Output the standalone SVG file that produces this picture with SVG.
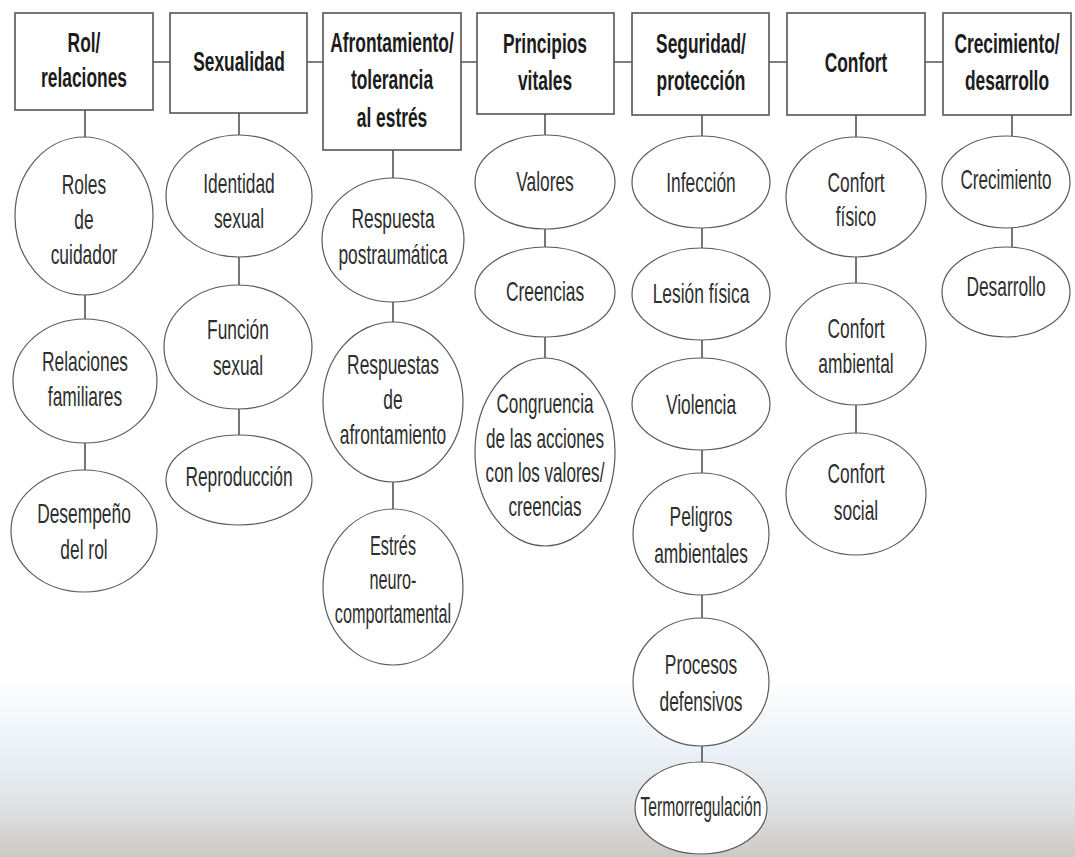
<svg xmlns="http://www.w3.org/2000/svg" width="1075" height="857" viewBox="0 0 1075 857">
<defs>
<linearGradient id="bg" x1="0" y1="0" x2="0" y2="857" gradientUnits="userSpaceOnUse">
<stop offset="0" stop-color="#ffffff"/>
<stop offset="0.79" stop-color="#ffffff"/>
<stop offset="0.87" stop-color="#ecf3f8"/>
<stop offset="0.94" stop-color="#e0e2e4"/>
<stop offset="1" stop-color="#cdc8c4"/>
</linearGradient>
<style>
.box{fill:#ffffff;stroke:#555;stroke-width:1.6}
.ell{fill:#ffffff;stroke:#5a5a5a;stroke-width:1.2}
.ln{stroke:#555;stroke-width:1.6;fill:none}
.t{font-family:"Liberation Sans",Arial,sans-serif;font-size:28.5px;fill:#2e2e2e;text-anchor:middle}
.b{font-family:"Liberation Sans",Arial,sans-serif;font-size:28.5px;font-weight:bold;fill:#1c1c1c;text-anchor:middle}
</style>
</defs>
<rect x="0" y="0" width="1075" height="857" fill="url(#bg)"/>

<g id="connectors">
<path class="ln" d="M153 62H170M307 62H323M461 62H477M614 62H632M769 62H787M925 62H943"/>
<path class="ln" d="M85 110V137M85 295V319M85 443V470"/>
<path class="ln" d="M239 113V135M239 257V285M239 409V435"/>
<path class="ln" d="M393 150V178M393 302V323M393 482V509"/>
<path class="ln" d="M545 114V135M545 229V247M545 337V358"/>
<path class="ln" d="M702 115V136M702 228V248M702 340V358M702 450V473M702 595V618M702 746V762"/>
<path class="ln" d="M856 115V137M856 257V283M856 405V433"/>
<path class="ln" d="M1012 115V136M1012 228V247"/>
</g>

<g id="rol-relaciones"><rect class="box" x="15" y="13" width="138" height="97"/>
<text class="b" transform="translate(84,0) scale(0.61,1)"><tspan x="0" y="52">Rol/</tspan><tspan x="0" y="87">relaciones</tspan></text></g>
<g id="sexualidad"><rect class="box" x="170" y="13" width="137" height="100"/>
<text class="b" transform="translate(239,0) scale(0.61,1)"><tspan x="0" y="71">Sexualidad</tspan></text></g>
<g id="afrontamiento"><rect class="box" x="323" y="13" width="138" height="137"/>
<text class="b" transform="translate(392,0) scale(0.61,1)"><tspan x="0" y="52">Afrontamiento/</tspan><tspan x="0" y="89">tolerancia</tspan><tspan x="0" y="127">al estrés</tspan></text></g>
<g id="principios"><rect class="box" x="477" y="13" width="137" height="101"/>
<text class="b" transform="translate(545,0) scale(0.61,1)"><tspan x="0" y="53">Principios</tspan><tspan x="0" y="90">vitales</tspan></text></g>
<g id="seguridad"><rect class="box" x="632" y="13" width="137" height="102"/>
<text class="b" transform="translate(701,0) scale(0.61,1)"><tspan x="0" y="53">Seguridad/</tspan><tspan x="0" y="90">protección</tspan></text></g>
<g id="confort"><rect class="box" x="787" y="13" width="138" height="102"/>
<text class="b" transform="translate(856,0) scale(0.61,1)"><tspan x="0" y="72">Confort</tspan></text></g>
<g id="crecimiento-desarrollo"><rect class="box" x="943" y="13" width="128" height="102"/>
<text class="b" transform="translate(1007,0) scale(0.61,1)"><tspan x="0" y="53">Crecimiento/</tspan><tspan x="0" y="90">desarrollo</tspan></text></g>

<g id="roles-cuidador"><ellipse class="ell" cx="84" cy="216" rx="69" ry="79"/>
<text class="t" transform="translate(84,0) scale(0.61,1)"><tspan x="0" y="194">Roles</tspan><tspan x="0" y="229">de</tspan><tspan x="0" y="264">cuidador</tspan></text></g>
<g id="relaciones-familiares"><ellipse class="ell" cx="85" cy="381" rx="72" ry="62"/>
<text class="t" transform="translate(85,0) scale(0.61,1)"><tspan x="0" y="371">Relaciones</tspan><tspan x="0" y="406">familiares</tspan></text></g>
<g id="desempeno-rol"><ellipse class="ell" cx="84" cy="531" rx="73" ry="61"/>
<text class="t" transform="translate(84,0) scale(0.61,1)"><tspan x="0" y="523">Desempeño</tspan><tspan x="0" y="559">del rol</tspan></text></g>

<g id="identidad-sexual"><ellipse class="ell" cx="239" cy="196" rx="73" ry="61"/>
<text class="t" transform="translate(239,0) scale(0.61,1)"><tspan x="0" y="193">Identidad</tspan><tspan x="0" y="228">sexual</tspan></text></g>
<g id="funcion-sexual"><ellipse class="ell" cx="238" cy="347" rx="74" ry="62"/>
<text class="t" transform="translate(238,0) scale(0.61,1)"><tspan x="0" y="339">Función</tspan><tspan x="0" y="375">sexual</tspan></text></g>
<g id="reproduccion"><ellipse class="ell" cx="239" cy="480" rx="73" ry="45"/>
<text class="t" transform="translate(239,0) scale(0.61,1)"><tspan x="0" y="486">Reproducción</tspan></text></g>

<g id="respuesta-postraumatica"><ellipse class="ell" cx="393" cy="240" rx="71" ry="62"/>
<text class="t" transform="translate(393,0) scale(0.61,1)"><tspan x="0" y="228">Respuesta</tspan><tspan x="0" y="264">postraumática</tspan></text></g>
<g id="respuestas-afrontamiento"><ellipse class="ell" cx="393" cy="402" rx="70" ry="80"/>
<text class="t" transform="translate(393,0) scale(0.61,1)"><tspan x="0" y="374">Respuestas</tspan><tspan x="0" y="409">de</tspan><tspan x="0" y="444">afrontamiento</tspan></text></g>
<g id="estres-neurocomportamental"><ellipse class="ell" cx="393" cy="587" rx="70" ry="78"/>
<text class="t" transform="translate(393,0) scale(0.57,1)"><tspan x="0" y="555">Estrés</tspan><tspan x="0" y="589">neuro-</tspan><tspan x="0" y="623">comportamental</tspan></text></g>

<g id="valores"><ellipse class="ell" cx="545" cy="182" rx="70" ry="47"/>
<text class="t" transform="translate(545,0) scale(0.61,1)"><tspan x="0" y="191">Valores</tspan></text></g>
<g id="creencias"><ellipse class="ell" cx="545" cy="292" rx="70" ry="45"/>
<text class="t" transform="translate(545,0) scale(0.61,1)"><tspan x="0" y="301">Creencias</tspan></text></g>
<g id="congruencia"><ellipse class="ell" cx="545" cy="452" rx="70" ry="94"/>
<text class="t" transform="translate(545,0) scale(0.6,1)"><tspan x="0" y="413">Congruencia</tspan><tspan x="0" y="448">de las acciones</tspan><tspan x="0" y="482">con los valores/</tspan><tspan x="0" y="516">creencias</tspan></text></g>

<g id="infeccion"><ellipse class="ell" cx="701" cy="182" rx="69" ry="46"/>
<text class="t" transform="translate(701,0) scale(0.61,1)"><tspan x="0" y="192">Infección</tspan></text></g>
<g id="lesion-fisica"><ellipse class="ell" cx="701" cy="294" rx="69" ry="46"/>
<text class="t" transform="translate(701,0) scale(0.61,1)"><tspan x="0" y="303">Lesión física</tspan></text></g>
<g id="violencia"><ellipse class="ell" cx="701" cy="404" rx="69" ry="46"/>
<text class="t" transform="translate(701,0) scale(0.61,1)"><tspan x="0" y="414">Violencia</tspan></text></g>
<g id="peligros-ambientales"><ellipse class="ell" cx="701" cy="534" rx="68" ry="61"/>
<text class="t" transform="translate(701,0) scale(0.61,1)"><tspan x="0" y="526">Peligros</tspan><tspan x="0" y="563">ambientales</tspan></text></g>
<g id="procesos-defensivos"><ellipse class="ell" cx="701" cy="682" rx="68" ry="64"/>
<text class="t" transform="translate(701,0) scale(0.61,1)"><tspan x="0" y="674">Procesos</tspan><tspan x="0" y="711">defensivos</tspan></text></g>
<g id="termorregulacion"><ellipse class="ell" cx="701" cy="808" rx="66" ry="46"/>
<text class="t" transform="translate(701,0) scale(0.55,1)"><tspan x="0" y="816">Termorregulación</tspan></text></g>

<g id="confort-fisico"><ellipse class="ell" cx="856" cy="197" rx="70" ry="60"/>
<text class="t" transform="translate(856,0) scale(0.61,1)"><tspan x="0" y="192">Confort</tspan><tspan x="0" y="226">físico</tspan></text></g>
<g id="confort-ambiental"><ellipse class="ell" cx="856" cy="344" rx="70" ry="61"/>
<text class="t" transform="translate(856,0) scale(0.61,1)"><tspan x="0" y="338">Confort</tspan><tspan x="0" y="373">ambiental</tspan></text></g>
<g id="confort-social"><ellipse class="ell" cx="856" cy="494" rx="70" ry="61"/>
<text class="t" transform="translate(856,0) scale(0.61,1)"><tspan x="0" y="483">Confort</tspan><tspan x="0" y="520">social</tspan></text></g>

<g id="crecimiento"><ellipse class="ell" cx="1006" cy="182" rx="64" ry="46"/>
<text class="t" transform="translate(1006,0) scale(0.6,1)"><tspan x="0" y="189">Crecimiento</tspan></text></g>
<g id="desarrollo"><ellipse class="ell" cx="1006" cy="292" rx="64" ry="45"/>
<text class="t" transform="translate(1006,0) scale(0.61,1)"><tspan x="0" y="296">Desarrollo</tspan></text></g>
</svg>
